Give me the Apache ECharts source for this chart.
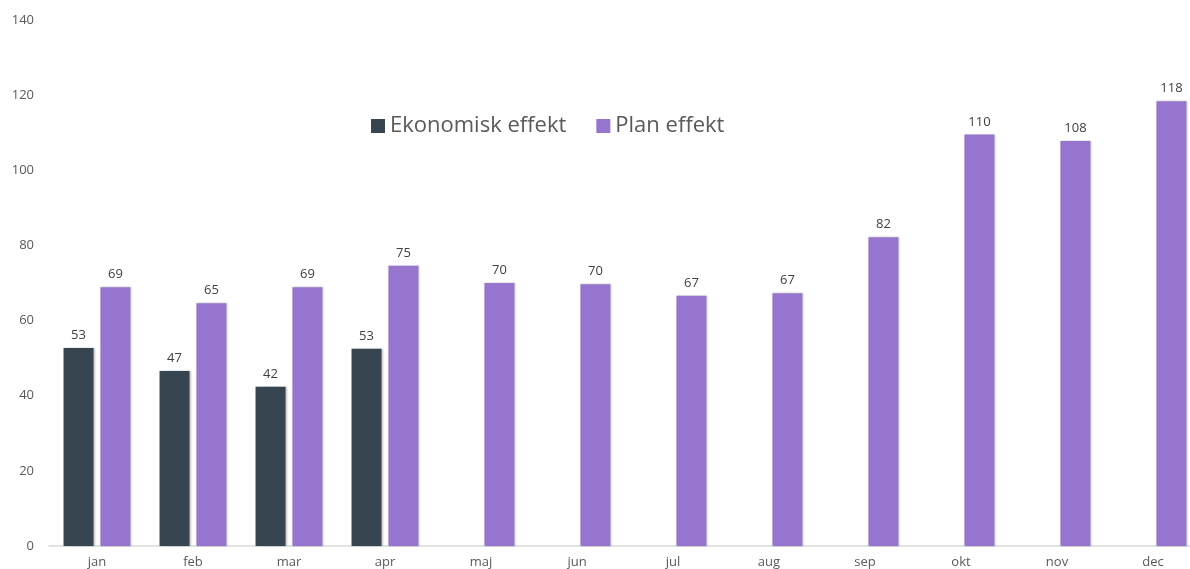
<!DOCTYPE html>
<html>
<head>
<meta charset="utf-8">
<script src="https://cdn.jsdelivr.net/npm/echarts@6/dist/echarts.min.js"></script>
<style>
  html, body { margin: 0; padding: 0; background: #fff; overflow: hidden; }
  /* the source picture is cut off on the right, so the canvas runs past the window edge */
  #chart { width: 1201px; height: 569px; }
</style>
</head>
<body>
<div id="chart"></div>
<script>
var months = ['jan', 'feb', 'mar', 'apr', 'maj', 'jun', 'jul', 'aug', 'sep', 'okt', 'nov', 'dec'];
var ekonomisk = [52.7, 46.6, 42.4, 52.5, null, null, null, null, null, null, null, null];
var plan = [68.9, 64.6, 68.9, 74.6, 70.0, 69.7, 66.6, 67.3, 82.2, 109.5, 107.8, 118.4];
var yTicks = { min: 0, max: 140, interval: 20 };

var chart = echarts.init(document.getElementById('chart'));
var labelStyle = {
  show: true,
  position: 'top',
  distance: 6,
  color: '#404040',
  fontSize: 13,
  fontFamily: 'Open Sans',
  formatter: function (p) { return Math.round(p.value); }
};
var shadow = {
  shadowColor: 'rgba(0,0,0,0.25)',
  shadowBlur: 2,
  shadowOffsetX: 1,
  shadowOffsetY: 0
};
chart.setOption({
  animation: false,
  textStyle: { fontFamily: 'Open Sans' },
  legend: {
    top: 110,
    left: 366,
    itemWidth: 14,
    itemHeight: 14,
    itemGap: 30,
    icon: 'rect',
    textStyle: { fontSize: 22, color: '#595959', fontFamily: 'Open Sans' },
    data: ['Ekonomisk effekt', 'Plan effekt']
  },
  grid: { left: 49, right: 0, top: 20, bottom: 23 },
  xAxis: {
    type: 'category',
    data: months,
    axisLine: { lineStyle: { color: '#d9d9d9', width: 1.5 } },
    axisTick: { show: false },
    axisLabel: { color: '#595959', fontSize: 13, margin: 10 }
  },
  yAxis: {
    type: 'value',
    min: yTicks.min,
    max: yTicks.max,
    interval: yTicks.interval,
    splitLine: { show: false },
    axisLine: { show: false },
    axisLabel: { color: '#595959', fontSize: 13, margin: 15, align: 'right' }
  },
  series: [
    {
      name: 'Ekonomisk effekt',
      type: 'bar',
      data: ekonomisk,
      barWidth: 30,
      barGap: '23%',
      itemStyle: Object.assign({ color: '#36454f' }, shadow),
      label: labelStyle
    },
    {
      name: 'Plan effekt',
      type: 'bar',
      data: plan,
      barWidth: 30,
      itemStyle: Object.assign({ color: '#9575cd' }, shadow),
      label: labelStyle
    }
  ]
});
</script>
</body>
</html>
